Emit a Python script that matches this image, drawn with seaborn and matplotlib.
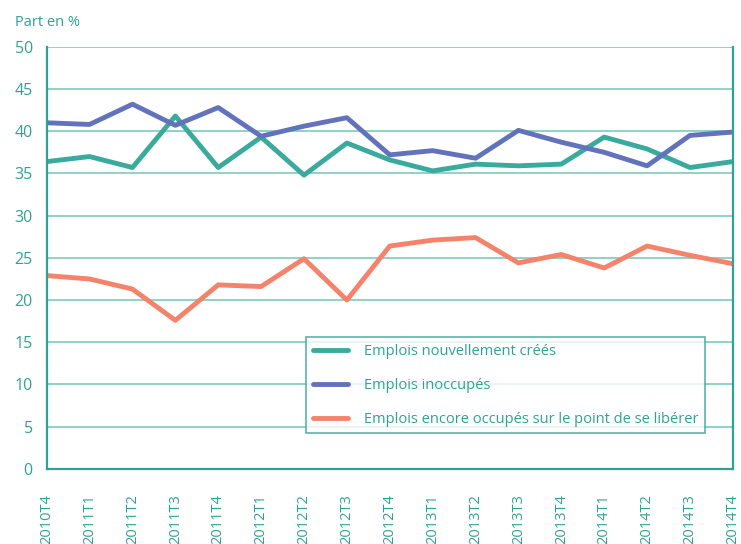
import numpy as np
import pandas as pd
import matplotlib
matplotlib.use('Agg')
import matplotlib.pyplot as plt
import seaborn as sns

trimestres = ['2010T4', '2011T1', '2011T2', '2011T3', '2011T4', '2012T1', '2012T2',
              '2012T3', '2012T4', '2013T1', '2013T2', '2013T3', '2013T4', '2014T1',
              '2014T2', '2014T3', '2014T4']

nouveaux = [36.4, 37.0, 35.7, 41.8, 35.7, 39.3, 34.8, 38.6, 36.6, 35.3, 36.1, 35.9,
            36.1, 39.3, 37.9, 35.7, 36.4]
inoccupes = [41.0, 40.8, 43.2, 40.7, 42.8, 39.4, 40.6, 41.6, 37.2, 37.7, 36.8, 40.1,
             38.7, 37.5, 35.9, 39.5, 39.9]
liberes = [22.9, 22.5, 21.3, 17.6, 21.8, 21.6, 24.9, 20.0, 26.4, 27.1, 27.4, 24.4,
           25.4, 23.8, 26.4, 25.3, 24.3]

noms = ['Emplois nouvellement créés', 'Emplois inoccupés',
        'Emplois encore occupés sur le point de se libérer']
couleurs = ['#3aaa9c', '#6272bb', '#f4836b']

teal = '#2fa293'
grille = '#7cc9bf'

df = pd.DataFrame({
    'trimestre': trimestres * 3,
    'part': nouveaux + inoccupes + liberes,
    'serie': [noms[0]] * len(trimestres) + [noms[1]] * len(trimestres) + [noms[2]] * len(trimestres),
})

sns.set_style('white')
plt.rcParams['font.family'] = ['Open Sans', 'DejaVu Sans']

fig = plt.figure(figsize=(7.41, 5.44), dpi=100)
ax = fig.add_axes([0.063, 0.138, 0.926, 0.776])

sns.lineplot(data=df, x='trimestre', y='part', hue='serie', palette=couleurs,
             linewidth=3.5, ax=ax, sort=False)

ax.set_ylim(0, 50)
ax.set_xlim(0, len(trimestres) - 1)
ax.set_yticks(range(0, 51, 5))
ax.yaxis.grid(True, color=grille, linewidth=1.2)
ax.set_axisbelow(True)
ax.set_xlabel('')
ax.set_ylabel('')

for side in ['left', 'bottom', 'right']:
    ax.spines[side].set_color(teal)
    ax.spines[side].set_linewidth(1.6)
ax.spines['top'].set_visible(False)

ax.tick_params(axis='y', colors=teal, labelsize=11.5, length=5, width=1, pad=5,
               direction='out')
ax.tick_params(axis='x', colors=teal, labelsize=10.5, length=5, width=1, pad=13,
               direction='out')
plt.setp(ax.get_xticklabels(), rotation=90)

fig.text(0.02, 0.952, 'Part en %', color=teal, fontsize=10.5)

leg = ax.legend(loc='upper left', bbox_to_anchor=(0.378, 0.312),
                borderaxespad=0, frameon=True, fancybox=False, fontsize=10.5,
                labelspacing=1.3, handlelength=2.4, handletextpad=1.1,
                borderpad=0.45, title=None)
leg.get_frame().set_edgecolor(teal)
leg.get_frame().set_linewidth(1.2)
for t in leg.get_texts():
    t.set_color(teal)
for l in leg.get_lines():
    l.set_linewidth(3.5)

fig.savefig('out.png', dpi=100)
